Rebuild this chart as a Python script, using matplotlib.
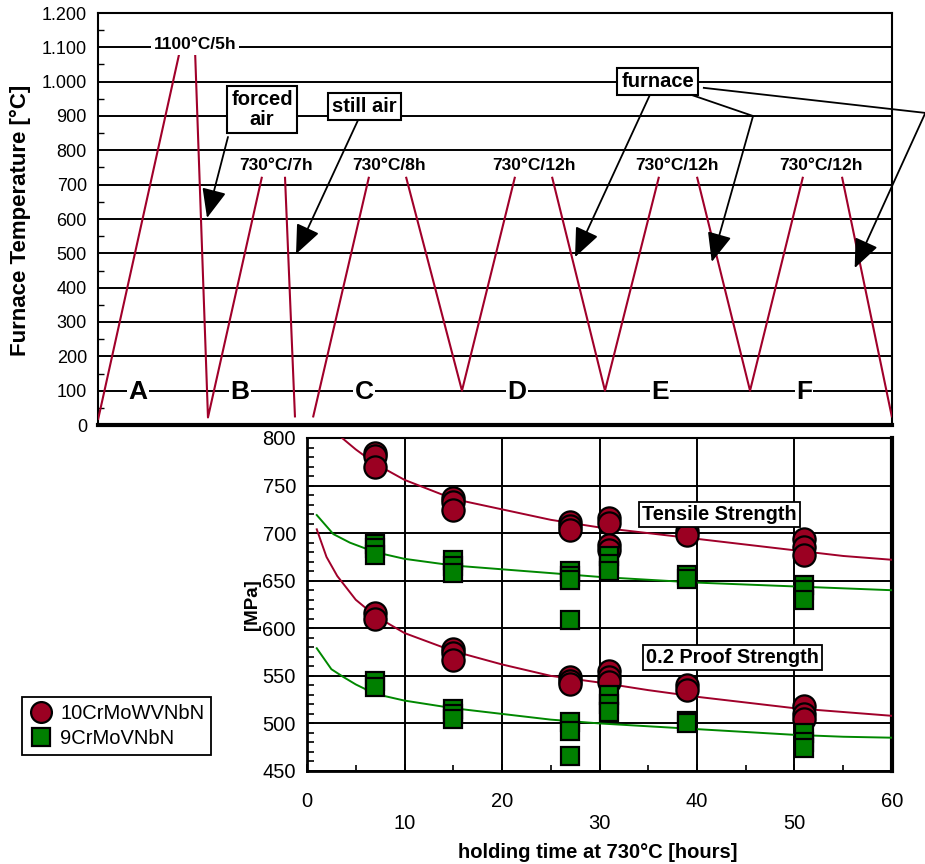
import matplotlib
matplotlib.use("Agg")
import matplotlib.pyplot as plt
from matplotlib.lines import Line2D
from matplotlib.ticker import FixedLocator, MultipleLocator

plt.rcParams['font.family'] = ['Liberation Sans', 'DejaVu Sans']

RED = "#9B0022"
GREEN = "#007F00"
RED_LINE = "#A0002A"
GREEN_LINE = "#008800"

# ---------------- top panel data (schematic time units 0..100) ----------------
profile_x = [[0, 10.33], [12.22, 13.85, 20.65], [23.55, 24.81], [27.08, 34.13],
             [38.79, 45.84, 52.52], [57.18, 63.85, 70.65], [75.44, 82.12, 88.79],
             [93.70, 100]]
profile_T = [[15, 1092], [1092, 22, 723], [723, 22], [22, 723],
             [723, 100, 723], [723, 100, 723], [723, 100, 723], [723, 22]]

temp_ticks = [0, 100, 200, 300, 400, 500, 600, 700, 800, 900, 1000, 1100, 1200]
temp_labels = ["0", "100", "200", "300", "400", "500", "600", "700", "800", "900",
               "1.000", "1.100", "1.200"]

stage_letters = ["A", "B", "C", "D", "E", "F"]
stage_x = [5.04, 17.88, 33.5, 52.77, 70.78, 88.92]

hold_labels = ["1100°C/5h", "730°C/7h", "730°C/8h", "730°C/12h", "730°C/12h", "730°C/12h"]
hold_x = [12.2, 22.4, 36.65, 54.9, 72.9, 91.06]
hold_T = [1108, 755, 755, 755, 755, 755]

# ---------------- bottom panel data ----------------
sample_x = [7, 15, 27, 31, 39, 51]
ts_red = [[784, 781, 769], [737, 733, 724], [712, 708, 703], [716, 711, 688, 682], [702, 698], [694, 685, 677]]
ts_green = [[689, 684, 677], [672, 665, 658], [660, 655, 651, 609], [676, 668, 660], [656, 652], [646, 640, 630]]
ps_red = [[616, 610], [578, 574, 567], [549, 545, 541], [555, 549, 544], [540, 535], [518, 510, 505]]
ps_green = [[545, 538], [515, 510, 505], [502, 492, 466], [530, 520, 512], [503, 500], [490, 480, 474]]

curve_ts_red_x = [3.6, 5, 7, 10, 15, 20, 25, 30, 35, 40, 45, 50, 55, 60]
curve_ts_red_y = [800, 788, 773, 756, 736, 725, 714, 706, 700, 694, 688, 682, 676, 672]
curve_ts_green_x = [1.0, 2.7, 4.4, 7, 10, 15, 20, 25, 30, 35, 40, 45, 50, 55, 60]
curve_ts_green_y = [719, 699, 690, 680, 673, 666, 662, 658, 654, 651, 648, 646, 644, 642, 640]
curve_ps_red_x = [1.0, 2, 3.1, 5, 7, 10, 15, 20, 25, 30, 35, 40, 45, 50, 55, 60]
curve_ps_red_y = [704, 675, 655, 630, 613, 595, 576, 562, 550, 543, 535, 528, 522, 516, 512, 508]
curve_ps_green_x = [1.0, 2.5, 3.7, 5, 7, 10, 15, 20, 25, 30, 35, 40, 45, 50, 55, 60]
curve_ps_green_y = [579, 557, 549, 541, 531, 524, 516, 510, 504, 500, 497, 494, 491, 488, 486, 485]

x_ticks = [0, 10, 20, 30, 40, 50, 60]
y_ticks = [450, 500, 550, 600, 650, 700, 750, 800]

W, H = 925, 864
fig = plt.figure(figsize=(W / 100, H / 100), dpi=100)

# ================= top panel =================
ax1 = fig.add_axes([98 / W, 1 - 425 / H, (892 - 98) / W, (425 - 13) / H])
ax1.set_xlim(0, 100)
ax1.set_ylim(0, 1200)
for xs, ts in zip(profile_x, profile_T):
    ax1.plot(xs, ts, color=RED_LINE, lw=1.5, zorder=3, solid_capstyle='butt')
ax1.yaxis.set_major_locator(FixedLocator(temp_ticks))
ax1.set_yticklabels(temp_labels, fontsize=13)
ax1.yaxis.set_minor_locator(MultipleLocator(50))
ax1.tick_params(axis='y', which='major', direction='in', length=0, pad=8)
ax1.tick_params(axis='y', which='minor', direction='in', length=4, width=1)
ax1.set_xticks([])
ax1.grid(True, axis='y', color='black', lw=1.4, zorder=1)
for s in ['top', 'left', 'right']:
    ax1.spines[s].set_linewidth(1.5)
ax1.spines['bottom'].set_linewidth(3)

for lab, x in zip(stage_letters, stage_x):
    ax1.text(x, 95, lab, fontsize=19, fontweight='bold', ha='center', va='center',
             zorder=5, bbox=dict(facecolor='white', edgecolor='none', pad=1))
for lab, x, t in zip(hold_labels, hold_x, hold_T):
    ax1.text(x, t, lab, fontsize=12.5, fontweight='bold', ha='center', va='center',
             zorder=5, bbox=dict(facecolor='white', edgecolor='none', pad=2))

boxprops = dict(facecolor='white', edgecolor='black', lw=1.5, boxstyle='square,pad=0.2')
ax1.text(20.65, 918, "forced\nair", fontsize=14.5, fontweight='bold', ha='center', va='center',
         linespacing=1.05, zorder=6, bbox=boxprops)
ax1.text(33.6, 929, "still air", fontsize=14.5, fontweight='bold', ha='center', va='center',
         zorder=6, bbox=boxprops)
ax1.text(70.5, 1000, "furnace", fontsize=14.5, fontweight='bold', ha='center', va='center',
         zorder=6, bbox=boxprops)

ap = dict(arrowstyle='-|>,head_length=0.9,head_width=0.38', color='black', lw=1.3,
          shrinkA=0, shrinkB=0, mutation_scale=20)
ax1.annotate('', xy=(13.73, 603), xytext=(16.37, 839), arrowprops=ap, annotation_clip=False, zorder=7)
ax1.annotate('', xy=(24.94, 498), xytext=(32.75, 888), arrowprops=ap, annotation_clip=False, zorder=7)
ax1.annotate('', xy=(60.08, 489), xytext=(69.5, 961), arrowprops=ap, annotation_clip=False, zorder=7)
ax1.plot([74.8, 82.5], [961, 900], color='black', lw=1.3, clip_on=False, zorder=7)
ax1.annotate('', xy=(77.3, 475), xytext=(82.5, 900), arrowprops=ap, annotation_clip=False, zorder=7)
ax1.plot([76.3, 104.2], [982, 909], color='black', lw=1.3, clip_on=False, zorder=7)
ax1.annotate('', xy=(95.3, 457), xytext=(104.2, 909), arrowprops=ap, annotation_clip=False, zorder=7)

fig.text(20 / W, 1 - 220 / H, "Furnace Temperature [°C]", rotation=90, fontsize=16,
         fontweight='bold', ha='center', va='center')

# ================= bottom panel =================
ax2 = fig.add_axes([307 / W, 1 - 771 / H, (892 - 307) / W, (771 - 438) / H])
ax2.set_xlim(0, 60)
ax2.set_ylim(450, 800)
ax2.set_xticks(x_ticks)
ax2.set_xticklabels([str(v) for v in x_ticks], fontsize=14.5)
ax2.set_yticks(y_ticks)
ax2.set_yticklabels([str(v) for v in y_ticks], fontsize=14.5)
ax2.xaxis.set_minor_locator(MultipleLocator(5))
ax2.yaxis.set_minor_locator(MultipleLocator(10))
ax2.tick_params(which='both', direction='in', top=False, right=False)
ax2.tick_params(axis='x', which='major', length=5, width=1.2)
ax2.tick_params(axis='x', which='minor', length=4, width=1.2)
ax2.tick_params(axis='y', which='major', length=5, width=1.2, pad=8)
ax2.tick_params(axis='y', which='minor', length=5, width=1.2)
for i, tk in enumerate(ax2.xaxis.get_major_ticks()):
    tk.set_pad(15 if i % 2 == 0 else 31)
ax2.grid(True, which='major', color='black', lw=1.4, zorder=1)
ax2.spines['top'].set_linewidth(1.5)
ax2.spines['left'].set_linewidth(2)
ax2.spines['bottom'].set_linewidth(2)
ax2.spines['right'].set_linewidth(3)

ax2.plot(curve_ts_red_x, curve_ts_red_y, color=RED_LINE, lw=1.4, zorder=3)
ax2.plot(curve_ts_green_x, curve_ts_green_y, color=GREEN_LINE, lw=1.4, zorder=3)
ax2.plot(curve_ps_red_x, curve_ps_red_y, color=RED_LINE, lw=1.4, zorder=3)
ax2.plot(curve_ps_green_x, curve_ps_green_y, color=GREEN_LINE, lw=1.4, zorder=3)

for data in (ts_red, ps_red):
    for x, vals in zip(sample_x, data):
        ax2.plot([x] * len(vals), vals, linestyle='none', marker='o', ms=16,
                 mfc=RED, mec='black', mew=1.6, zorder=4)
for data in (ts_green, ps_green):
    for x, vals in zip(sample_x, data):
        ax2.plot([x] * len(vals), vals, linestyle='none', marker='s', ms=13.5,
                 mfc=GREEN, mec='black', mew=1.6, zorder=5)

bp2 = dict(facecolor='white', edgecolor='black', lw=1.3, boxstyle='square,pad=0.15')
ax2.text(42.3, 720, "Tensile Strength", fontsize=14.3, fontweight='bold', ha='center',
         va='center', zorder=6, bbox=bp2)
ax2.text(43.6, 569, "0.2 Proof Strength", fontsize=14.3, fontweight='bold', ha='center',
         va='center', zorder=6, bbox=bp2)

fig.text(253 / W, 1 - 605 / H, "[MPa]", rotation=90, fontsize=13.5, fontweight='bold',
         ha='center', va='center')
fig.text(598 / W, 1 - 852 / H, "holding time at 730°C [hours]", fontsize=14.5,
         fontweight='bold', ha='center', va='center')

handles = [Line2D([], [], linestyle='none', marker='o', ms=15, mfc=RED, mec='black', mew=1.6),
           Line2D([], [], linestyle='none', marker='s', ms=13, mfc=GREEN, mec='black', mew=1.6)]
leg = fig.legend(handles, ["10CrMoWVNbN", "9CrMoVNbN"], loc='upper left',
                 bbox_to_anchor=(22 / W, 1 - 697 / H), borderaxespad=0, fontsize=14.5,
                 fancybox=False, edgecolor='black', framealpha=1, handletextpad=0.35,
                 labelspacing=0.3, borderpad=0.35, handlelength=1.2)
leg.get_frame().set_linewidth(1.3)

fig.savefig("out.png", dpi=100)
